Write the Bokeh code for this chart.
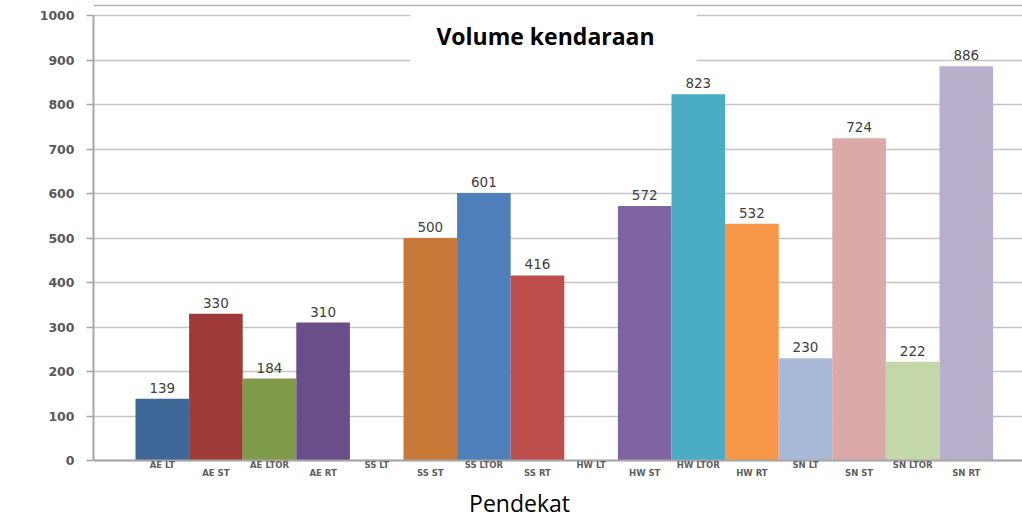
from bokeh.plotting import figure
from bokeh.models import Range1d, ColumnDataSource, Label, BoxAnnotation, Span, FixedTicker
from bokeh.embed import file_html
from bokeh.resources import INLINE
from bokeh.core.properties import value

# ---------------- data ----------------
categories = ["AE LT", "AE ST", "AE LTOR", "AE RT",
              "SS LT", "SS ST", "SS LTOR", "SS RT",
              "HW LT", "HW ST", "HW LTOR", "HW RT",
              "SN LT", "SN ST", "SN LTOR", "SN RT"]
volumes = [139, 330, 184, 310,
           0, 500, 601, 416,
           0, 572, 823, 532,
           230, 724, 222, 886]
bar_colors = ["#3F6797", "#9E3B39", "#7F9A48", "#694E8A",
              "#FFFFFF", "#C97937", "#4E7FBB", "#BE4E4B",
              "#FFFFFF", "#8064A2", "#4BACC6", "#F79646",
              "#A9BAD9", "#DBA9A8", "#C5D6A8", "#B9AFCC"]
y_ticks = [0, 100, 200, 300, 400, 500, 600, 700, 800, 900, 1000]
title_text = "Volume kendaraan"
x_title = "Pendekat"

# ---------------- layout constants ----------------
W, H = 1022, 517
FRAME_L, FRAME_T = 93, 3
ZERO_PY = 460          # pixel row of value 0
PX_X = 53.6            # px per category
PX_Y = 0.445           # px per unit of volume
FIRST_CENTER = 161.8   # px of first bar centre

x_start = -(FIRST_CENTER - FRAME_L) / PX_X
x_end = x_start + (W - FRAME_L) / PX_X
y_end = 1000 + (15 - FRAME_T) / PX_Y
y_start = -(H - ZERO_PY) / PX_Y


def px_to_x(px):
    return (px - FIRST_CENTER) / PX_X


def py_to_y(py):
    return (ZERO_PY - py) / PX_Y


p = figure(width=W, height=H, x_range=Range1d(x_start, x_end), y_range=Range1d(y_start, y_end),
           output_backend="svg", toolbar_location=None, x_axis_location=None,
           min_border_left=FRAME_L, min_border_right=0, min_border_top=FRAME_T,
           min_border_bottom=0)
p.outline_line_color = None
p.background_fill_color = "white"
p.border_fill_color = "white"

xs = list(range(len(categories)))
src = ColumnDataSource(dict(x=xs, top=volumes, color=bar_colors, cat=categories))
p.vbar(x="x", top="top", bottom=0, width=1.0, fill_color="color", line_color=None, source=src)

# value labels (non-zero bars)
lab_idx = [i for i, v in enumerate(volumes) if v > 0]
lab_src = ColumnDataSource(dict(x=[xs[i] for i in lab_idx],
                                y=[volumes[i] for i in lab_idx],
                                t=[str(volumes[i]) for i in lab_idx]))
p.text(x="x", y="y", text="t", source=lab_src, text_align="center", text_baseline="bottom",
       y_offset=-6, text_font=value("DejaVu Sans"), text_font_size="13.5px",
       text_color="#404040")

# y axis
p.yaxis.ticker = FixedTicker(ticks=y_ticks)
p.yaxis.bounds = (0, 1000)
p.yaxis.axis_line_color = "#a6a6a6"
p.yaxis.axis_line_width = 2
p.yaxis.major_tick_out = 7
p.yaxis.major_tick_in = 0
p.yaxis.major_tick_line_color = "#a6a6a6"
p.yaxis.major_tick_line_width = 1.5
p.yaxis.minor_tick_line_color = None
p.yaxis.major_label_text_font = "DejaVu Sans"
p.yaxis.major_label_text_font_style = "bold"
p.yaxis.major_label_text_font_size = "12.5px"
p.yaxis.major_label_text_color = "#595959"
p.yaxis.major_label_standoff = 12

p.xgrid.grid_line_color = None
p.ygrid.ticker = FixedTicker(ticks=y_ticks)
p.ygrid.grid_line_color = "#c4c4c4"
p.ygrid.grid_line_width = 1.5
p.ygrid.level = "underlay"

# category axis line
p.add_layout(Span(location=0, dimension="width", line_color="#a6a6a6", line_width=2))

# category labels, staggered
for i, c in enumerate(categories):
    py = 464 if i % 2 == 0 else 472
    p.add_layout(Label(x=xs[i], y=py_to_y(py), text=c, text_align="center",
                       text_baseline="middle", text_font="DejaVu Sans",
                       text_font_style="bold", text_font_size="8.5px",
                       text_color="#606060"))

# top border line
p.add_layout(Span(location=py_to_y(5), dimension="width", line_color="#b0b0b0", line_width=1.5))

# title box and title
p.add_layout(BoxAnnotation(left=px_to_x(410), right=px_to_x(696), bottom=py_to_y(63),
                           top=py_to_y(9), fill_color="white", fill_alpha=1.0,
                           line_color=None))
p.add_layout(Label(x=px_to_x(545), y=py_to_y(35), text=title_text, text_align="center",
                   text_baseline="middle", text_font="Open Sans", text_font_style="bold",
                   text_font_size="23px", text_color="#000000"))

# x axis title
p.add_layout(Label(x=px_to_x(519), y=py_to_y(502), text=x_title, text_align="center",
                   text_baseline="middle", text_font="Open Sans",
                   text_font_size="23px", text_color="#000000"))

open("out.html", "w").write(file_html(p, INLINE))
